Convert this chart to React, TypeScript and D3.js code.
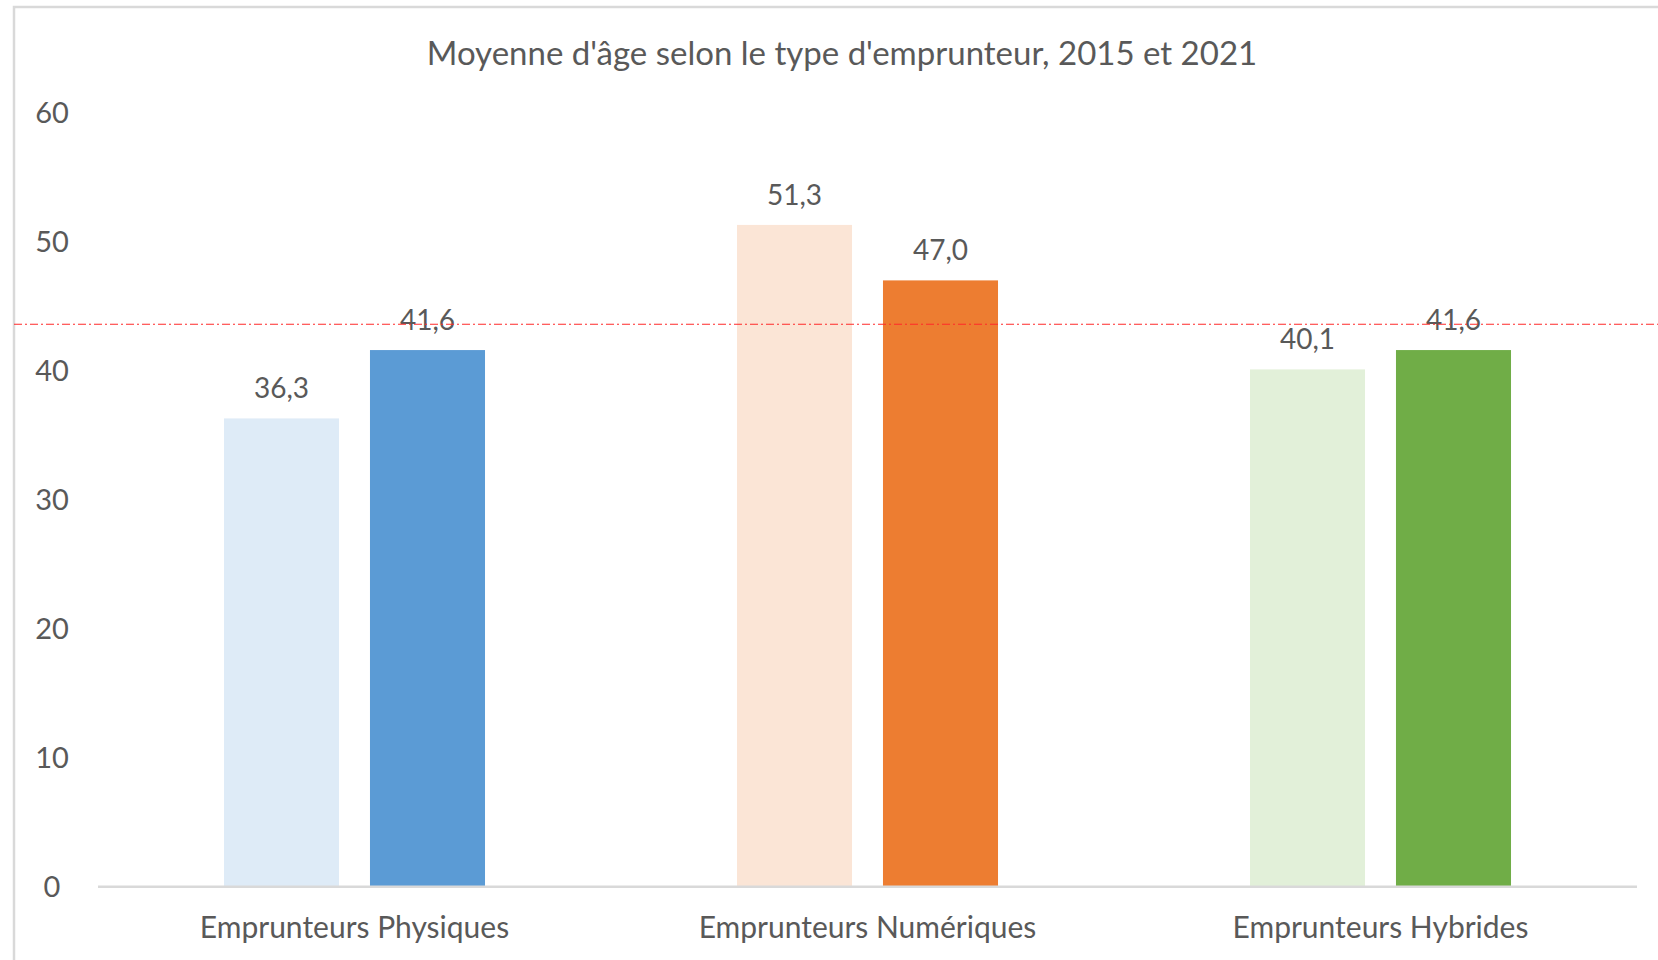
import React, { useEffect, useRef } from 'react'
import { select, scaleBand, scaleLinear } from 'd3'

// categories and series
const categories = ['Emprunteurs Physiques', 'Emprunteurs Numériques', 'Emprunteurs Hybrides']
const years = ['2015', '2021']
const values2015 = [36.3, 51.3, 40.1]
const values2021 = [41.6, 47.0, 41.6]
const colors2015 = ['#DEEBF7', '#FBE5D6', '#E2F0D9']
const colors2021 = ['#5B9BD5', '#ED7D31', '#70AD47']
const yTicks = [0, 10, 20, 30, 40, 50, 60]
const refLine = 43.6
const title = "Moyenne d'âge selon le type d'emprunteur, 2015 et 2021"

function App() {
  const ref = useRef<SVGSVGElement>(null)

  useEffect(() => {
    const W = 1658, H = 960
    const svg = select(ref.current)
    svg.selectAll('*').remove()

    const font = 'Lato, "Open Sans", sans-serif'
    const textColor = '#595959'

    // chart frame (cropped on the right/bottom)
    svg.append('rect')
      .attr('x', 14).attr('y', 7)
      .attr('width', W).attr('height', H)
      .attr('fill', '#fff')
      .attr('stroke', '#d9d9d9')
      .attr('stroke-width', 2.5)

    const x = scaleBand().domain(categories).range([98, 1637])
    const xi = scaleBand().domain(years).range([0, x.step()]).paddingInner(0.212).paddingOuter(0.863)
    const y = scaleLinear().domain([0, 60]).range([886.7, 112.7])

    // title
    svg.append('text')
      .attr('x', 842).attr('y', 65)
      .attr('text-anchor', 'middle')
      .attr('font-family', font).attr('font-size', 33)
      .attr('fill', textColor)
      .text(title)

    // y tick labels
    svg.selectAll('.ytick')
      .data(yTicks)
      .enter().append('text')
      .attr('x', 52).attr('y', d => y(d))
      .attr('dy', '0.36em')
      .attr('text-anchor', 'middle')
      .attr('font-family', font).attr('font-size', 29)
      .attr('fill', textColor)
      .text(d => d)

    const series = [
      { year: '2015', values: values2015, colors: colors2015 },
      { year: '2021', values: values2021, colors: colors2021 },
    ]

    series.forEach(s => {
      const g = svg.append('g')
      g.selectAll('rect')
        .data(categories)
        .enter().append('rect')
        .attr('x', (d) => (x(d) as number) + (xi(s.year) as number))
        .attr('y', (d, i) => y(s.values[i]))
        .attr('width', xi.bandwidth())
        .attr('height', (d, i) => y(0) - y(s.values[i]))
        .attr('fill', (d, i) => s.colors[i])

      g.selectAll('text')
        .data(categories)
        .enter().append('text')
        .attr('x', (d) => (x(d) as number) + (xi(s.year) as number) + xi.bandwidth() / 2)
        .attr('y', (d, i) => y(s.values[i]) - 20)
        .attr('text-anchor', 'middle')
        .attr('font-family', font).attr('font-size', 28)
        .attr('fill', textColor)
        .text((d, i) => s.values[i].toFixed(1).replace('.', ','))
    })

    // baseline
    svg.append('line')
      .attr('x1', 98).attr('x2', 1637)
      .attr('y1', y(0)).attr('y2', y(0))
      .attr('stroke', '#d9d9d9').attr('stroke-width', 2.5)

    // category labels
    svg.selectAll('.xlab')
      .data(categories)
      .enter().append('text')
      .attr('x', d => (x(d) as number) + x.bandwidth() / 2)
      .attr('y', 938)
      .attr('text-anchor', 'middle')
      .attr('font-family', font).attr('font-size', 30)
      .attr('fill', textColor)
      .text(d => d)

    // reference line (dash-dot)
    svg.append('line')
      .attr('x1', 14).attr('x2', W)
      .attr('y1', y(refLine)).attr('y2', y(refLine))
      .attr('stroke', '#ff2a2a').attr('stroke-width', 1.2)
      .attr('stroke-dasharray', '8 3 2 3')
  }, [])

  return (
    <div style={{ position: 'absolute', left: 0, top: 0 }}>
      <svg ref={ref} width={1658} height={960} style={{ display: 'block' }} />
    </div>
  )
}

export default App
